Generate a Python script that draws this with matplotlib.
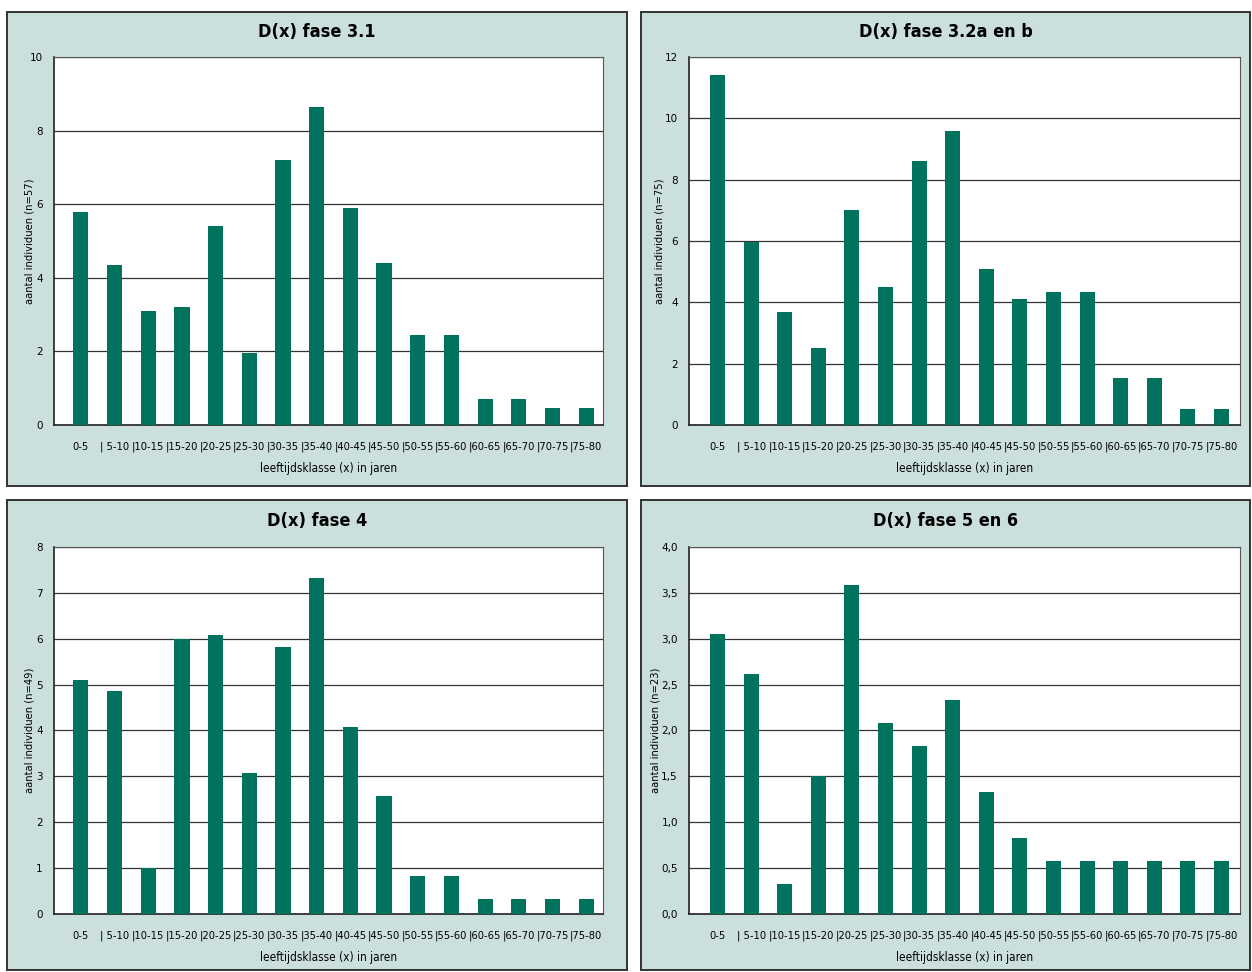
import matplotlib
matplotlib.use("Agg")
import matplotlib.pyplot as plt
from matplotlib import font_manager
from matplotlib.patches import Rectangle
from matplotlib.ticker import FuncFormatter

CLASSES = ["0-5", "5-10", "10-15", "15-20", "20-25", "25-30", "30-35", "35-40",
           "40-45", "45-50", "50-55", "55-60", "60-65", "65-70", "70-75", "75-80"]
TICK_LABELS = ["0-5", "| 5-10"] + ["|" + c for c in CLASSES[2:]]

TITLES = ["D(x) fase 3.1", "D(x) fase 3.2a en b", "D(x) fase 4", "D(x) fase 5 en 6"]
YLABELS = ["aantal individuen (n=57)", "aantal individuen (n=75)",
           "aantal individuen (n=49)", "aantal individuen (n=23)"]

fase_3_1 = [5.8, 4.35, 3.1, 3.2, 5.4, 1.95, 7.2, 8.65, 5.9, 4.4, 2.45, 2.45, 0.7, 0.7, 0.45, 0.45]
fase_3_2 = [11.4, 5.95, 3.68, 2.5, 7.0, 4.5, 8.6, 9.6, 5.08, 4.1, 4.33, 4.33, 1.52, 1.52, 0.52, 0.52]
fase_4 = [5.1, 4.85, 1.0, 6.0, 6.08, 3.08, 5.82, 7.33, 4.08, 2.58, 0.83, 0.83, 0.33, 0.33, 0.33, 0.33]
fase_5_6 = [3.05, 2.62, 0.33, 1.5, 3.58, 2.08, 1.83, 2.33, 1.33, 0.83, 0.58, 0.58, 0.58, 0.58, 0.58, 0.58]

YMAX = [10, 12, 8, 4]
YSTEP = [2, 2, 1, 0.5]

BAR = "#00735f"
PANEL_BG = "#cbe0dc"

# pick a narrow face if one is installed, else Liberation Sans
names = {f.name for f in font_manager.fontManager.ttflist}
condensed = {f.name for f in font_manager.fontManager.ttflist
             if str(f.stretch) in ("condensed", "semi-condensed", "75", "87")}
if "Liberation Sans Narrow" in names:
    NARROW = dict(family="Liberation Sans Narrow")
elif "DejaVu Sans" in condensed:
    NARROW = dict(family="DejaVu Sans", stretch="condensed")
else:
    NARROW = dict(family="Liberation Sans")

PANELS = [
    (0.0056, 0.500, 0.4952, 0.4877),
    (0.5120, 0.500, 0.4864, 0.4877),
    (0.0056, 0.002, 0.4952, 0.4835),
    (0.5120, 0.002, 0.4864, 0.4835),
]
AXES = [
    (0.0431, 0.5628, 0.4385, 0.3786),
    (0.5503, 0.5628, 0.4401, 0.3786),
    (0.0431, 0.0597, 0.4385, 0.3776),
    (0.5503, 0.0597, 0.4401, 0.3776),
]
XLIMS = [(-0.8, 15.5), (-0.85, 15.55), (-0.8, 15.5), (-0.85, 15.55)]
YLABEL_X = [-0.035, -0.044, -0.035, -0.051]


def comma(v, pos):
    return f"{v:.1f}".replace(".", ",")


fig = plt.figure(figsize=(12.52, 9.72), dpi=100)

series = [fase_3_1, fase_3_2, fase_4, fase_5_6]
for i, values in enumerate(series):
    px, py, pw, ph = PANELS[i]
    fig.patches.append(Rectangle((px, py), pw, ph, transform=fig.transFigure,
                                 facecolor=PANEL_BG, edgecolor="#333333", lw=1.4, zorder=-5))
    fig.text(px + pw / 2, py + ph - 0.021, TITLES[i], ha="center", va="center",
             fontsize=13, fontweight="bold", **NARROW)

    ax = fig.add_axes(AXES[i])
    ax.set_facecolor("white")
    x = list(range(len(values)))
    ax.bar(x, values, width=0.45, color=BAR, zorder=3)
    ax.set_xlim(*XLIMS[i])
    ax.set_ylim(0, YMAX[i])
    step = YSTEP[i]
    ticks = [k * step for k in range(int(round(YMAX[i] / step)) + 1)]
    ax.set_yticks(ticks)
    if i == 3:
        ax.yaxis.set_major_formatter(FuncFormatter(comma))
    ax.set_xticks(x, TICK_LABELS, fontsize=8, **NARROW)
    for lab in ax.get_yticklabels():
        lab.set_fontsize(7.5)
    ax.tick_params(axis="y", length=0, pad=8)
    ax.tick_params(axis="x", length=0, pad=12)
    ax.grid(axis="y", color="#333333", lw=0.9, zorder=1)
    ax.set_axisbelow(True)
    for side in ["left", "bottom"]:
        ax.spines[side].set_color("#222222")
        ax.spines[side].set_linewidth(1.2)
    for side in ["top", "right"]:
        ax.spines[side].set_color("#555555")
        ax.spines[side].set_linewidth(0.8)
    ax.set_ylabel(YLABELS[i], fontsize=8, **NARROW)
    ax.yaxis.set_label_coords(YLABEL_X[i], 0.5)
    ax.set_xlabel("leeftijdsklasse (x) in jaren", fontsize=8.5, labelpad=7, **NARROW)

fig.savefig("out.png", dpi=100)
